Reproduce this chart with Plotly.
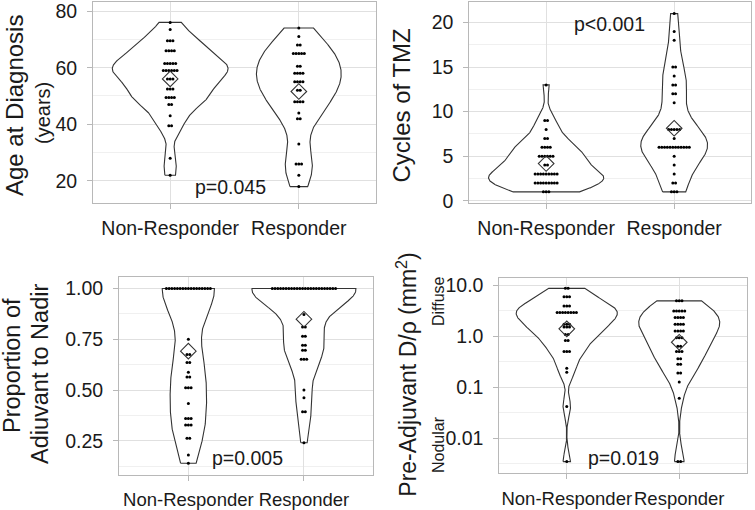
import numpy as np
import plotly.graph_objects as go

categories = ["Non-Responder", "Responder"]

# Panel 1: Age at diagnosis (years) - value / count pairs read from the dot strips
age_nr_vals = [76, 73.5, 69.5, 66, 61.5, 59, 56, 52.5, 49.5, 47, 43, 39.5, 28, 22]
age_nr_cnts = [1, 1, 3, 4, 5, 6, 3, 3, 4, 2, 1, 2, 1, 1]
age_r_vals = [74, 71, 68, 65, 60.5, 58, 55, 52, 48, 44, 42, 33, 26, 22, 18]
age_r_cnts = [1, 1, 2, 5, 2, 4, 4, 2, 4, 1, 2, 1, 3, 1, 1]

# Panel 2: Cycles of TMZ
tmz_nr_vals = [13, 9, 8, 7, 6, 5, 4, 3, 2, 1]
tmz_nr_cnts = [1, 2, 1, 2, 4, 6, 2, 9, 9, 3]
tmz_r_vals = [21, 19, 18, 15, 14, 13, 12, 11, 8, 7, 6, 5, 4, 3, 2, 1]
tmz_r_cnts = [1, 1, 1, 2, 1, 2, 2, 1, 5, 1, 12, 1, 1, 1, 2, 3]

# Panel 3: Proportion of adjuvant to nadir
prop_nr_vals = [1.0, 0.75, 0.675, 0.636, 0.587, 0.564, 0.511, 0.434, 0.36, 0.328, 0.262, 0.18, 0.139]
prop_nr_cnts = [17, 1, 2, 2, 1, 2, 3, 1, 3, 3, 2, 1, 1]
prop_r_vals = [1.0, 0.872, 0.811, 0.765, 0.721, 0.696, 0.652, 0.5, 0.462, 0.393, 0.24]
prop_r_cnts = [24, 1, 2, 2, 2, 2, 3, 1, 1, 2, 1]

# Panel 4: Pre-adjuvant D/rho (mm^2), log scale
dr_nr_vals = [8.6, 5.9, 3.9, 2.9, 1.7, 1.5, 1.07, 0.82, 0.5, 0.235, 0.196, 0.042, 0.0035]
dr_nr_cnts = [2, 3, 3, 8, 3, 3, 2, 2, 3, 1, 1, 1, 1]
dr_r_vals = [4.9, 3.1, 2.3, 1.7, 1.26, 0.93, 0.63, 0.5, 0.36, 0.28, 0.19, 0.126, 0.061, 0.0035]
dr_r_cnts = [3, 5, 4, 4, 4, 3, 2, 3, 2, 2, 2, 1, 1, 2]

p_labels = ["p=0.045", "p<0.001", "p=0.005", "p=0.019"]

FONT = "Liberation Sans, Arial, sans-serif"
W, H = 755, 510

panels = [
    dict(ax="", nr=(age_nr_vals, age_nr_cnts), r=(age_r_vals, age_r_cnts), log=False,
         dx=(93, 376), dy=(2, 203), yrange=[12.2, 83.2], tickvals=[20, 40, 60, 80],
         ticktext=["20", "40", "60", "80"], minor=10, p=(1.465, 17.9), xfont=19.5),
    dict(ax="2", nr=(tmz_nr_vals, tmz_nr_cnts), r=(tmz_r_vals, tmz_r_cnts), log=False,
         dx=(469.3, 751), dy=(2, 203), yrange=[-0.25, 22.3], tickvals=[0, 5, 10, 15, 20],
         ticktext=["0", "5", "10", "15", "20"], minor=2.5, p=(1.497, 19.8), xfont=19.5),
    dict(ax="3", nr=(prop_nr_vals, prop_nr_cnts), r=(prop_r_vals, prop_r_cnts), log=False,
         dx=(119, 373.3), dy=(277, 475), yrange=[0.081, 1.057], tickvals=[0.25, 0.5, 0.75, 1.0],
         ticktext=["0.25", "0.50", "0.75", "1.00"], minor=0.125, p=(1.515, 0.165), xfont=18.5),
    dict(ax="4", nr=(dr_nr_vals, dr_nr_cnts), r=(dr_r_vals, dr_r_cnts), log=True,
         dx=(499.3, 746.7), dy=(277.7, 473.3), yrange=[-2.685, 1.143],
         tickvals=[0.01, 0.1, 1, 10], ticktext=["0.01", "0.1", "1.0", "10.0"], minor=None,
         p=(1.503, -2.38), xfont=18.5),
]


def bw_nrd0(x):
    sd = np.std(x, ddof=1)
    q75, q25 = np.percentile(x, [75, 25])
    lo = min(sd, (q75 - q25) / 1.34)
    if lo <= 0:
        lo = sd if sd > 0 else 1.0
    return 0.9 * lo * len(x) ** (-0.2)


def kde(x, grid):
    bw = bw_nrd0(x)
    z = (grid[:, None] - x[None, :]) / bw
    return np.exp(-0.5 * z ** 2).sum(axis=1) / (len(x) * bw * np.sqrt(2 * np.pi))


fig = go.Figure()
ann = []
LINE = "#333333"

for i, pnl in enumerate(panels):
    xa = "x" + pnl["ax"]
    ya = "y" + pnl["ax"]
    groups = [pnl["nr"], pnl["r"]]
    data = []
    for vals, cnts in groups:
        v = np.repeat(np.array(vals, float), cnts)
        data.append(np.log10(v) if pnl["log"] else v)
    grids, dens = [], []
    for d in data:
        g = np.linspace(d.min(), d.max(), 512)
        grids.append(g)
        dens.append(kde(d, g))
    dmax = max(dd.max() for dd in dens)
    width_px = pnl["dx"][1] - pnl["dx"][0]
    px_per_unit = width_px / 2.2
    step = 2.75 / px_per_unit
    for k, (g, dd, d) in enumerate(zip(grids, dens, data)):
        c = k + 1
        half = 0.45 * dd / dmax
        yy = np.concatenate([g, g[::-1], g[:1]])
        xx = np.concatenate([c - half, (c + half)[::-1], [c - half[0]]])
        if pnl["log"]:
            yy = 10 ** yy
        fig.add_trace(go.Scatter(x=xx, y=yy, mode="lines", fill="toself", fillcolor="white",
                                 line=dict(color=LINE, width=1.1), xaxis=xa, yaxis=ya,
                                 hoverinfo="skip", showlegend=False))
        # centred dot stacks
        vals, cnts = groups[k]
        dxs, dys = [], []
        for val, n in zip(vals, cnts):
            offs = (np.arange(n) - (n - 1) / 2) * step
            dxs.extend(c + offs)
            dys.extend([val] * n)
        fig.add_trace(go.Scatter(x=dxs, y=dys, mode="markers",
                                 marker=dict(size=3, color="black", line=dict(width=0)),
                                 xaxis=xa, yaxis=ya, showlegend=False, hoverinfo="skip"))
        m = d.mean()
        fig.add_trace(go.Scatter(x=[c], y=[10 ** m if pnl["log"] else m], mode="markers",
                                 marker=dict(symbol="diamond-open", size=12, color="#333333",
                                             line=dict(width=1.1, color="#333333")),
                                 xaxis=xa, yaxis=ya, showlegend=False, hoverinfo="skip"))
    xd = [pnl["dx"][0] / W, pnl["dx"][1] / W]
    yd = [1 - pnl["dy"][1] / H, 1 - pnl["dy"][0] / H]
    common = dict(showline=True, mirror=True, linecolor="#b8b8b8", linewidth=1,
                  ticks="outside", ticklen=5, tickcolor="#b8b8b8", zeroline=False,
                  showgrid=True, gridcolor="#e0e0e0", gridwidth=1,
                  ticklabeloverflow="allow", tickangle=0)
    xkey = "xaxis" + pnl["ax"]
    ykey = "yaxis" + pnl["ax"]
    fig.update_layout(**{
        xkey: dict(domain=xd, range=[0.4, 2.6], tickmode="array", tickvals=[1, 2],
                   ticktext=categories, anchor=ya, ticklabelstandoff=3,
                   tickfont=dict(family=FONT, size=pnl["xfont"], color="#1a1a1a"), **common),
        ykey: dict(domain=yd, range=pnl["yrange"], tickmode="array", tickvals=pnl["tickvals"],
                   ticktext=pnl["ticktext"], anchor=xa, ticklabelstandoff=6,
                   tickfont=dict(family=FONT, size=19.5, color="#1a1a1a"),
                   type="log" if pnl["log"] else "linear", **common),
    })
    if pnl["minor"] is not None:
        fig.update_layout(**{ykey: dict(minor=dict(dtick=pnl["minor"], showgrid=True,
                                                   gridcolor="#f0f0f0", gridwidth=1))})
    else:
        fig.update_layout(**{ykey: dict(minor=dict(tickmode="array",
                                                   tickvals=[10 ** -2.5, 10 ** -1.5, 10 ** -0.5, 10 ** 0.5],
                                                   showgrid=True, gridcolor="#f0f0f0", gridwidth=1))})
    ann.append(dict(x=pnl["p"][0], y=pnl["p"][1], xref=xa, yref=ya, text=p_labels[i],
                    showarrow=False, font=dict(family=FONT, size=19.5, color="#1a1a1a")))


def ytitle(text, xpx, ypx, size):
    return dict(x=xpx / W, y=1 - ypx / H, xref="paper", yref="paper", text=text,
                textangle=-90, showarrow=False, xanchor="center", yanchor="middle",
                font=dict(family=FONT, size=size, color="#1a1a1a"))


ann += [
    ytitle("Age at Diagnosis", 14, 106, 24),
    ytitle("(years)", 43, 113, 20),
    ytitle("Cycles of TMZ", 401.7, 105.8, 24),
    ytitle("Proportion of", 12, 366, 23.5),
    ytitle("Adiuvant to Nadir", 40, 374, 23.5),
    ytitle("Pre-Adjuvant D/ρ (mm<sup>2</sup>)", 406.7, 375, 23),
    ytitle("Diffuse", 438, 301, 16),
    ytitle("Nodular", 438, 445, 16),
]

fig.update_layout(width=W, height=H, margin=dict(l=0, r=0, t=0, b=0),
                  paper_bgcolor="white", plot_bgcolor="white", template="none",
                  annotations=ann, showlegend=False)

fig.write_html("out.html", config={"displayModeBar": False},
               post_script="document.body.style.margin='0px';")
